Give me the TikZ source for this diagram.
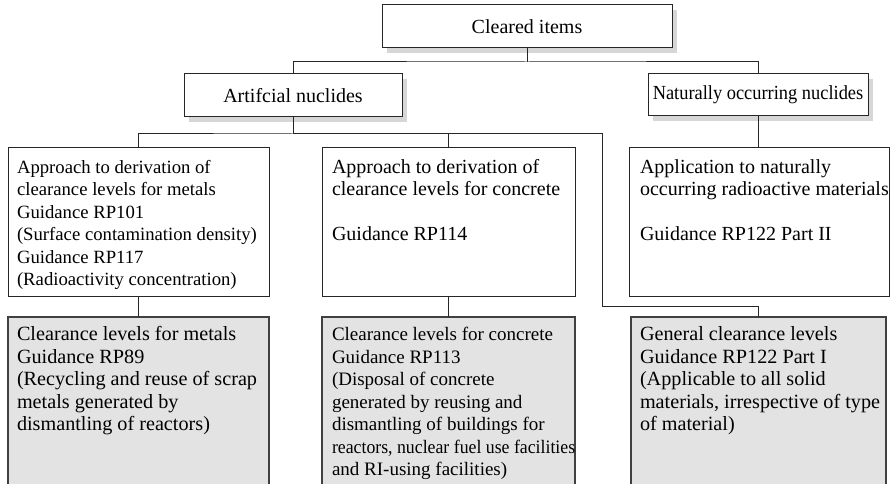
\documentclass[tikz,border=0pt]{standalone}
\usepackage{fontspec}
\setmainfont{Liberation Serif}
\usetikzlibrary{shadows}
% fixed-size block whose lines start at its top left
\newcommand\boxtext[3]{\parbox[c][#2][t]{#1}{\begin{tabular}[t]{@{}l@{}}#3\end{tabular}}}
\newcommand\bodysize[1]{\fontsize{#1}{22.5}\selectfont}
\begin{document}
\begin{tikzpicture}[x=1pt,y=-1pt,
  every node/.style={inner sep=0pt,outer sep=0pt,anchor=north west},
  link/.style={line width=1pt,draw=black!85},
  headbox/.style={draw=black!85,line width=1pt,fill=white,
    font=\fontsize{20}{24}\selectfont,
    drop shadow={fill=black!16,opacity=1,shadow xshift=5pt,shadow yshift=-5pt}},
  approachbox/.style={draw=black!85,line width=1pt,fill=white,inner ysep=9.5pt},
  levelbox/.style={draw=black!75,line width=1.3pt,fill=black!11,inner ysep=8pt}
]
\useasboundingbox (0,0) rectangle (894,484);
\clip (0,0) rectangle (894,484);

% top levels
\node[headbox,minimum width=290,minimum height=43] (cleared) at (382,5) {Cleared items};
\node[headbox,minimum width=218,minimum height=43] (art) at (184,74) {Artifcial nuclides};
\node[headbox,minimum width=220,minimum height=42] (nat) at (648,74)
  {\scalebox{0.92}[1]{Naturally occurring nuclides}};

% approach boxes
\node[approachbox,inner xsep=9pt,font=\bodysize{18.7}] (metA) at (8,148) {\boxtext{243pt}{129pt}{%
  Approach to derivation of\\clearance levels for metals\\Guidance RP101\\%
  (Surface contamination density)\\Guidance RP117\\(Radioactivity concentration)}};
\node[approachbox,inner xsep=10pt,font=\bodysize{20}] (conA) at (322,148) {\boxtext{233pt}{129pt}{%
  Approach to derivation of\\clearance levels for concrete\\ \\Guidance RP114}};
\node[approachbox,inner xsep=11pt,font=\bodysize{20}] (norm) at (629,148) {\boxtext{238pt}{129pt}{%
  Application to naturally\\occurring radioactive materials\\ \\Guidance RP122 Part II}};

% clearance level boxes
\node[levelbox,inner xsep=9pt,font=\bodysize{20.2}] (metB) at (8,317) {\boxtext{243pt}{170pt}{%
  Clearance levels for metals\\Guidance RP89\\(Recycling and reuse of scrap\\%
  metals generated by\\dismantling of reactors)}};
\node[levelbox,inner xsep=10pt,font=\bodysize{19}] (conB) at (322,317) {\boxtext{233pt}{170pt}{%
  Clearance levels for concrete\\Guidance RP113\\(Disposal of concrete\\%
  generated by reusing and\\dismantling of buildings for\\%
  \scalebox{0.935}[1]{reactors, nuclear fuel use facilities}\\and RI-using facilities)}};
\node[levelbox,inner xsep=9pt,font=\bodysize{20.2}] (genB) at (631,317) {\boxtext{237pt}{170pt}{%
  General clearance levels\\Guidance RP122 Part I\\(Applicable to all solid\\%
  materials, irrespective of type\\of material)}};

% connectors
\draw[link] (cleared.south) -- ++(0,14) coordinate (j1);
\draw[link] (art.north) |- (j1) -| (nat.north);
\draw[link] (art.south) -- ++(0,17) coordinate (j2);
\draw[link] (metA.north) |- (j2) -| (conA.north);
\coordinate (bend) at (602,306);
\draw[link] (j2) -| (bend) -| (genB.north);
\draw[link] (nat.south) -- (nat.south |- norm.north);
\draw[link] (metA.south) -- (metB.north);
\draw[link] (conA.south) -- (conB.north);
\end{tikzpicture}
\end{document}
